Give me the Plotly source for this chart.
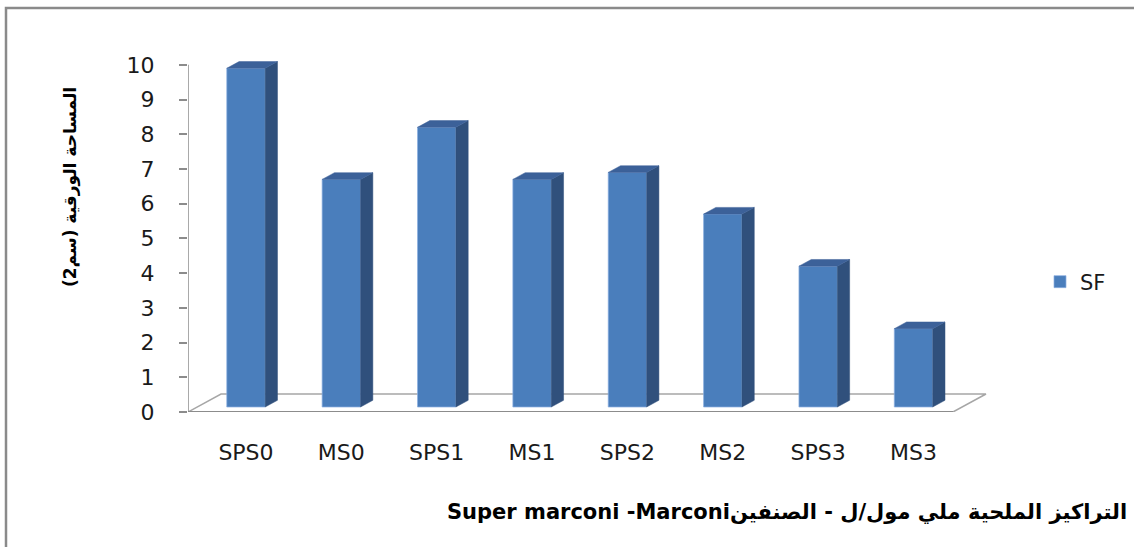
import plotly.graph_objects as go

# ---------------- data ----------------
categories = ["SPS0", "MS0", "SPS1", "MS1", "SPS2", "MS2", "SPS3", "MS3"]
sf_values = [9.9, 6.7, 8.2, 6.7, 6.9, 5.7, 4.2, 2.4]
y_tick_values = [0, 1, 2, 3, 4, 5, 6, 7, 8, 9, 10]
series_name = "SF"
y_title = "\u202bالمساحة الورقية (سم2)\u202c"
x_title = "\u202bالتراكيز الملحية ملي مول/ل - الصنفين" + "Super marconi -Marconi\u202c"

# ---------------- layout geometry (px) ----------------
W_PX, H_PX = 1134, 547
L, R, T, B = 188, 134, 45, 135
plot_w = W_PX - L - R
plot_h = H_PX - T - B
X_UNIT = 95.36          # px per category
Y_UNIT = 34.72          # px per value unit
X_MIN = -0.608
X_MAX = X_MIN + plot_w / X_UNIT
Y_MAX = plot_h / Y_UNIT

def px_to_paper_x(px):
    return (px - L) / plot_w

def px_to_paper_y(py):
    return (H_PX - B - py) / plot_h

# 3D look parameters (in data units)
BAR_W = 38.4 / X_UNIT
DXB, DYB = 12.3 / X_UNIT, 6.7 / Y_UNIT     # bar depth
DXF, DYF = 33 / X_UNIT, 18 / Y_UNIT         # floor depth
LIFT = 5 / Y_UNIT
FLOOR_RIGHT = len(categories) - 1 + 0.414

FRONT = "#4A7EBC"
SIDE = "#30507C"
TOP = "#3C6199"

idx = list(range(len(categories)))

fig = go.Figure()

# front faces (real bars)
fig.add_trace(go.Bar(
    x=idx, y=[v - LIFT for v in sf_values], base=LIFT, width=BAR_W,
    name=series_name, marker=dict(color=FRONT, line=dict(color="rgba(140,175,225,0.7)", width=1)),
    hoverinfo="skip",
))

# side faces & top faces derived from values
side_x, side_y, top_x, top_y = [], [], [], []
for c, v in zip(idx, sf_values):
    xr = c + BAR_W / 2
    xl = c - BAR_W / 2
    side_x += [xr, xr + DXB, xr + DXB, xr, xr, None]
    side_y += [LIFT, LIFT + DYB, v + DYB, v, LIFT, None]
    top_x += [xl, xl + DXB, xr + DXB, xr, xl, None]
    top_y += [v, v + DYB, v + DYB, v, v, None]

fig.add_trace(go.Scatter(x=side_x, y=side_y, mode="lines", fill="toself",
                         fillcolor=SIDE, line=dict(color=SIDE, width=0.5),
                         showlegend=False, hoverinfo="skip"))
fig.add_trace(go.Scatter(x=top_x, y=top_y, mode="lines", fill="toself",
                         fillcolor=TOP, line=dict(color=TOP, width=0.5),
                         showlegend=False, hoverinfo="skip"))

shapes = []
# floor
shapes.append(dict(
    type="path", xref="x", yref="y", layer="below",
    path=f"M {X_MIN},0 L {FLOOR_RIGHT},0 L {FLOOR_RIGHT + DXF},{DYF} L {X_MIN + DXF},{DYF} Z",
    fillcolor="white", line=dict(color="#A6A6A6", width=1.5),
))
shapes.append(dict(type="line", xref="x", yref="y", layer="below",
                   x0=X_MIN, y0=0, x1=FLOOR_RIGHT, y1=0,
                   line=dict(color="#8C8C8C", width=2)))
# y axis line
shapes.append(dict(type="line", xref="x", yref="y",
                   x0=X_MIN, y0=0, x1=X_MIN, y1=y_tick_values[-1],
                   line=dict(color="#8C8C8C", width=1.5)))
# outer frame
shapes.append(dict(type="rect", xref="paper", yref="paper",
                   x0=px_to_paper_x(6), y0=px_to_paper_y(560),
                   x1=px_to_paper_x(1150), y1=px_to_paper_y(8),
                   line=dict(color="#8A8A8A", width=2.5), fillcolor="rgba(0,0,0,0)"))

annotations = [
    dict(text=y_title, xref="paper", yref="paper",
         x=px_to_paper_x(70), y=px_to_paper_y(187), textangle=-90,
         showarrow=False, xanchor="center", yanchor="middle",
         font=dict(family="DejaVu Sans", size=17, color="#000000", weight="bold")),
    dict(text=x_title, xref="paper", yref="paper",
         x=px_to_paper_x(1129), y=px_to_paper_y(512),
         showarrow=False, xanchor="right", yanchor="middle",
         font=dict(family="DejaVu Sans", size=21, color="#000000", weight="bold")),
]

fig.update_layout(
    width=W_PX, height=H_PX,
    margin=dict(l=L, r=R, t=T, b=B, pad=0),
    template="none",
    paper_bgcolor="white", plot_bgcolor="white",
    showlegend=True,
    legend=dict(x=px_to_paper_x(1040), y=px_to_paper_y(282), xanchor="left", yanchor="middle",
                font=dict(family="DejaVu Sans", size=21, color="#1a1a1a"),
                bgcolor="rgba(0,0,0,0)"),
    shapes=shapes, annotations=annotations,
    font=dict(family="DejaVu Sans", color="#1a1a1a"),
)
fig.update_xaxes(range=[X_MIN, X_MAX], tickvals=idx, ticktext=categories,
                 showgrid=False, zeroline=False, showline=False, ticks="",
                 ticklabelstandoff=25, automargin=False,
                 tickfont=dict(family="DejaVu Sans", size=22, color="#1a1a1a"))
fig.update_yaxes(range=[0, Y_MAX], tickvals=y_tick_values,
                 showgrid=False, zeroline=False, showline=False,
                 ticks="outside", ticklen=8, tickcolor="#8C8C8C", tickwidth=1.5,
                 ticklabelstandoff=20, automargin=False,
                 tickfont=dict(family="DejaVu Sans", size=22, color="#1a1a1a"))

fig.write_html("out.html", config={"displayModeBar": False},
               post_script="document.body.style.margin='0';")
